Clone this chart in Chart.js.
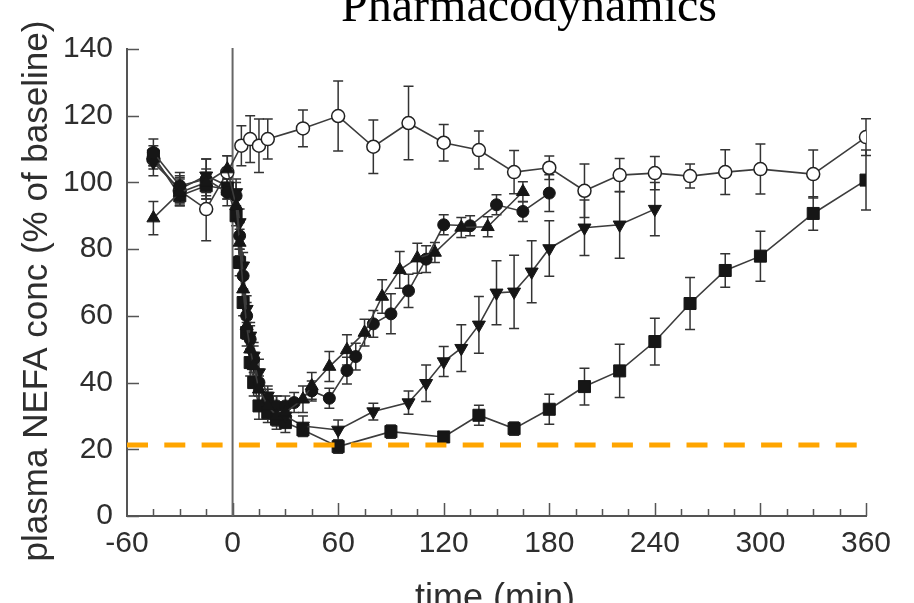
<!DOCTYPE html>
<html>
<head>
<meta charset="utf-8">
<title>Pharmacodynamics</title>
<script src="https://cdn.jsdelivr.net/npm/chart.js@4.4.1/dist/chart.umd.min.js"></script>
<style>
  html, body { margin: 0; padding: 0; background: #fff; overflow: hidden; }
  #wrap { width: 914px; height: 603px; position: relative; }
</style>
</head>
<body>
<div id="wrap"><canvas id="c" width="914" height="603"></canvas></div>
<script>
// ---- data: plasma NEFA concentration, % of baseline (mean and SEM) ----
const ctrlTime = [-45, -30, -15, -3, 5, 10, 15, 20, 40, 60, 80, 100, 120, 140, 160, 180, 200, 220, 240, 260, 280, 300, 330, 360];
const ctrlMean = [107, 97.5, 92, 103, 111, 113, 111, 113, 116.2, 119.9, 110.7, 117.8, 111.9, 109.7, 103.1, 104.4, 97.5, 102.2, 102.8, 101.9, 103.1, 104, 102.5, 113.6];
const ctrlSem  = [3, 4, 9.5, 5, 6, 7, 8, 6, 5.5, 10.5, 8, 11, 5.5, 5.7, 6.5, 3.5, 8, 5, 5, 3.6, 6.7, 7.5, 7.2, 5.5];

const triUpTime = [-45, -30, -15, -3, 2, 4, 6, 8, 10, 12, 15, 20, 25, 30, 40, 45, 55, 65, 75, 85, 95, 105, 115, 130, 145, 165];
const triUpMean = [89.3, 97, 100, 104, 93, 82, 68, 57, 50, 45, 38, 33, 30, 31, 35, 39, 44.8, 49.8, 55, 65.8, 73.8, 77.3, 79, 86.5, 86.7, 97.2];
const triUpSem  = [5, 4, 4, 4, 4, 4, 4, 4, 4, 4, 4, 4, 3, 3, 4, 4, 4.5, 4.5, 4, 5, 5.5, 4.5, 3, 3, 3, 3];

const circTime = [-45, -30, -15, -3, 2, 4, 6, 8, 10, 12, 15, 20, 25, 30, 35, 45, 55, 65, 70, 80, 90, 100, 110, 120, 135, 150, 165, 180];
const circMean = [109, 99, 101, 97, 96, 84, 72, 60, 53, 47, 40, 35, 33, 33, 34, 37.5, 35.3, 43.6, 47.8, 57.6, 60.6, 67.5, 77, 87.3, 87, 93.3, 91.3, 96.8];
const circSem  = [4, 4, 6, 4, 4, 4, 4, 4, 4, 4, 4, 3, 3, 3, 3, 3, 3, 4, 4, 4, 6, 5, 4, 3, 3, 3, 3, 5.5];

const triDnTime = [-45, -30, -15, -3, 2, 4, 6, 8, 10, 12, 15, 20, 25, 30, 40, 60, 80, 100, 110, 120, 130, 140, 150, 160, 170, 180, 200, 220, 240];
const triDnMean = [106, 98, 102, 99, 97, 88, 75, 62, 54, 48, 43, 36, 33, 30, 27, 25.8, 31.3, 34, 39.8, 46.3, 50.3, 57.3, 66.9, 67.2, 73.2, 80.2, 86.4, 87.3, 92];
const triDnSem  = [4, 4, 5, 4, 4, 4, 4, 4, 4, 4, 4, 3, 3, 3, 3, 3, 2.5, 3.5, 5.5, 4.5, 7, 8.5, 9.6, 11, 9.3, 8.3, 8.3, 10, 8];

const sqTime = [-45, -30, -15, -3, 2, 4, 6, 8, 10, 12, 15, 20, 25, 30, 40, 60, 90, 120, 140, 160, 180, 200, 220, 240, 260, 280, 300, 330, 360];
const sqMean = [108, 96, 99, 98, 90, 76, 64, 55, 46, 40, 33, 31, 29, 28, 25.8, 20.8, 25.3, 23.7, 30.2, 26.2, 32, 38.8, 43.5, 52.3, 63.7, 73.6, 77.9, 90.7, 100.7];
const sqSem  = [3, 3, 4, 3, 3, 4, 4, 4, 4, 4, 4, 3, 3, 3, 2, 2, 2, 1.5, 3, 2, 4.5, 5.5, 8, 7, 7.8, 5, 7.5, 5, 9];

// reference level (dashed) and its time span
const thresholdLevel = 21.3;
const thresholdSpan = [-60, 355];

// axis ticks and texts
const xTicks = [-60, 0, 60, 120, 180, 240, 300, 360];
const yTicks = [0, 20, 40, 60, 80, 100, 120, 140];
const titleText = 'Pharmacodynamics';
const xTitle = 'time (min)';
const yTitle = 'plasma NEFA conc (% of baseline)';

const pts = (t, v) => t.map((tt, i) => ({ x: tt, y: v[i] }));

const INK = '#161616';
const LINE = '#3c3c3c';

function series(label, t, v, e, style) {
  return Object.assign({
    label,
    data: pts(t, v),
    errs: e,
    showLine: true,
    borderColor: LINE,
    borderWidth: 1.6,
    pointBorderColor: INK,
    pointBackgroundColor: INK,
    pointBorderWidth: 1,
    pointRadius: 6,
    pointHoverRadius: 6,
    tension: 0
  }, style);
}

// error bars drawn under the markers
const errorBars = {
  id: 'errorBars',
  beforeDatasetsDraw(chart) {
    const { ctx, scales: { x, y } } = chart;
    ctx.save();
    ctx.strokeStyle = '#333';
    ctx.lineWidth = 1.5;
    chart.data.datasets.forEach(ds => {
      if (!ds.errs) return;
      ds.data.forEach((p, j) => {
        const e = ds.errs[j];
        if (!e) return;
        const px = x.getPixelForValue(p.x);
        const yt = y.getPixelForValue(p.y + e);
        const yb = y.getPixelForValue(p.y - e);
        ctx.beginPath();
        ctx.moveTo(px, yt); ctx.lineTo(px, yb);
        ctx.moveTo(px - 5, yt); ctx.lineTo(px + 5, yt);
        ctx.moveTo(px - 5, yb); ctx.lineTo(px + 5, yb);
        ctx.stroke();
      });
    });
    ctx.restore();
  }
};

// inward tick marks and the dosing line at t = 0
const axisMarks = {
  id: 'axisMarks',
  beforeDatasetsDraw(chart) {
    const { ctx, chartArea: a, scales: { x, y } } = chart;
    ctx.save();
    ctx.strokeStyle = '#555';
    ctx.lineWidth = 1.5;
    ctx.beginPath();
    yTicks.forEach(v => {
      const py = Math.round(y.getPixelForValue(v)) + 0.5;
      ctx.moveTo(a.left, py); ctx.lineTo(a.left + 12, py);
    });
    for (let t = -45; t <= 360; t += 15) {
      const px = Math.round(x.getPixelForValue(t)) + 0.5;
      const len = (t % 60 === 0) ? 13 : 7;
      ctx.moveTo(px, a.bottom); ctx.lineTo(px, a.bottom - len);
    }
    ctx.stroke();
    ctx.lineWidth = 2;
    ctx.strokeStyle = '#666';
    ctx.beginPath();
    const x0 = x.getPixelForValue(0);
    ctx.moveTo(x0, a.top - 1); ctx.lineTo(x0, a.bottom);
    ctx.stroke();
    ctx.restore();
  }
};

// title and axis titles
const titles = {
  id: 'titles',
  afterDraw(chart) {
    const { ctx } = chart;
    ctx.save();
    ctx.fillStyle = '#000';
    ctx.textAlign = 'center';
    ctx.textBaseline = 'alphabetic';
    ctx.font = '48px "Liberation Serif", "Times New Roman", serif';
    ctx.fillText(titleText, 529, 21);

    ctx.fillStyle = '#2e2e2e';
    ctx.font = '36px "Liberation Sans", Arial, sans-serif';
    ctx.fillText(xTitle, 495, 609);

    ctx.translate(37, 291);
    ctx.rotate(-Math.PI / 2);
    ctx.textBaseline = 'middle';
    ctx.font = '35px "Liberation Sans", Arial, sans-serif';
    ctx.fillText(yTitle, 0, 0);
    ctx.restore();
  }
};

const tickFont = { family: '"Liberation Sans", Arial, sans-serif', size: 30 };

new Chart(document.getElementById('c'), {
  type: 'scatter',
  data: {
    // earlier entries are painted on top
    datasets: [
      {
        label: 'reference level',
        data: thresholdSpan.map(t => ({ x: t, y: thresholdLevel })),
        showLine: true,
        borderColor: '#FFA500',
        borderWidth: 5,
        borderDash: [21, 16.3],
        borderCapStyle: 'butt',
        pointRadius: 0,
        pointHoverRadius: 0
      },
      series('dose A', triUpTime, triUpMean, triUpSem, { pointStyle: 'triangle', pointRadius: 7.5 }),
      series('dose B', circTime, circMean, circSem, { pointStyle: 'circle', pointRadius: 6 }),
      series('dose C', triDnTime, triDnMean, triDnSem, { pointStyle: 'triangle', pointRotation: 180, pointRadius: 7.5 }),
      series('dose D', sqTime, sqMean, sqSem, { pointStyle: 'rect', pointRadius: 8.5 }),
      series('control', ctrlTime, ctrlMean, ctrlSem, {
        pointBackgroundColor: '#fff', pointBorderColor: '#222', pointBorderWidth: 1.5, pointRadius: 6.5
      })
    ]
  },
  options: {
    responsive: false,
    devicePixelRatio: 1,
    animation: false,
    events: [],
    layout: { padding: { left: 0, right: 48, top: 49, bottom: 0 } },
    plugins: { legend: { display: false }, tooltip: { enabled: false }, title: { display: false } },
    scales: {
      x: {
        type: 'linear',
        min: -60, max: 360,
        afterBuildTicks: s => { s.ticks = xTicks.map(v => ({ value: v })); },
        afterFit: s => { s.height = 87; },
        grid: { display: false, drawTicks: false },
        border: { display: true, color: '#555', width: 2 },
        ticks: { font: tickFont, color: '#2e2e2e', padding: 10, maxRotation: 0, autoSkip: false }
      },
      y: {
        type: 'linear',
        min: 0, max: 140,
        afterBuildTicks: s => { s.ticks = yTicks.map(v => ({ value: v })); },
        afterFit: s => { s.width = 127; },
        grid: { display: false, drawTicks: false },
        border: { display: true, color: '#555', width: 2 },
        ticks: { font: tickFont, color: '#2e2e2e', padding: 14 }
      }
    }
  },
  plugins: [errorBars, axisMarks, titles]
});
</script>
</body>
</html>
